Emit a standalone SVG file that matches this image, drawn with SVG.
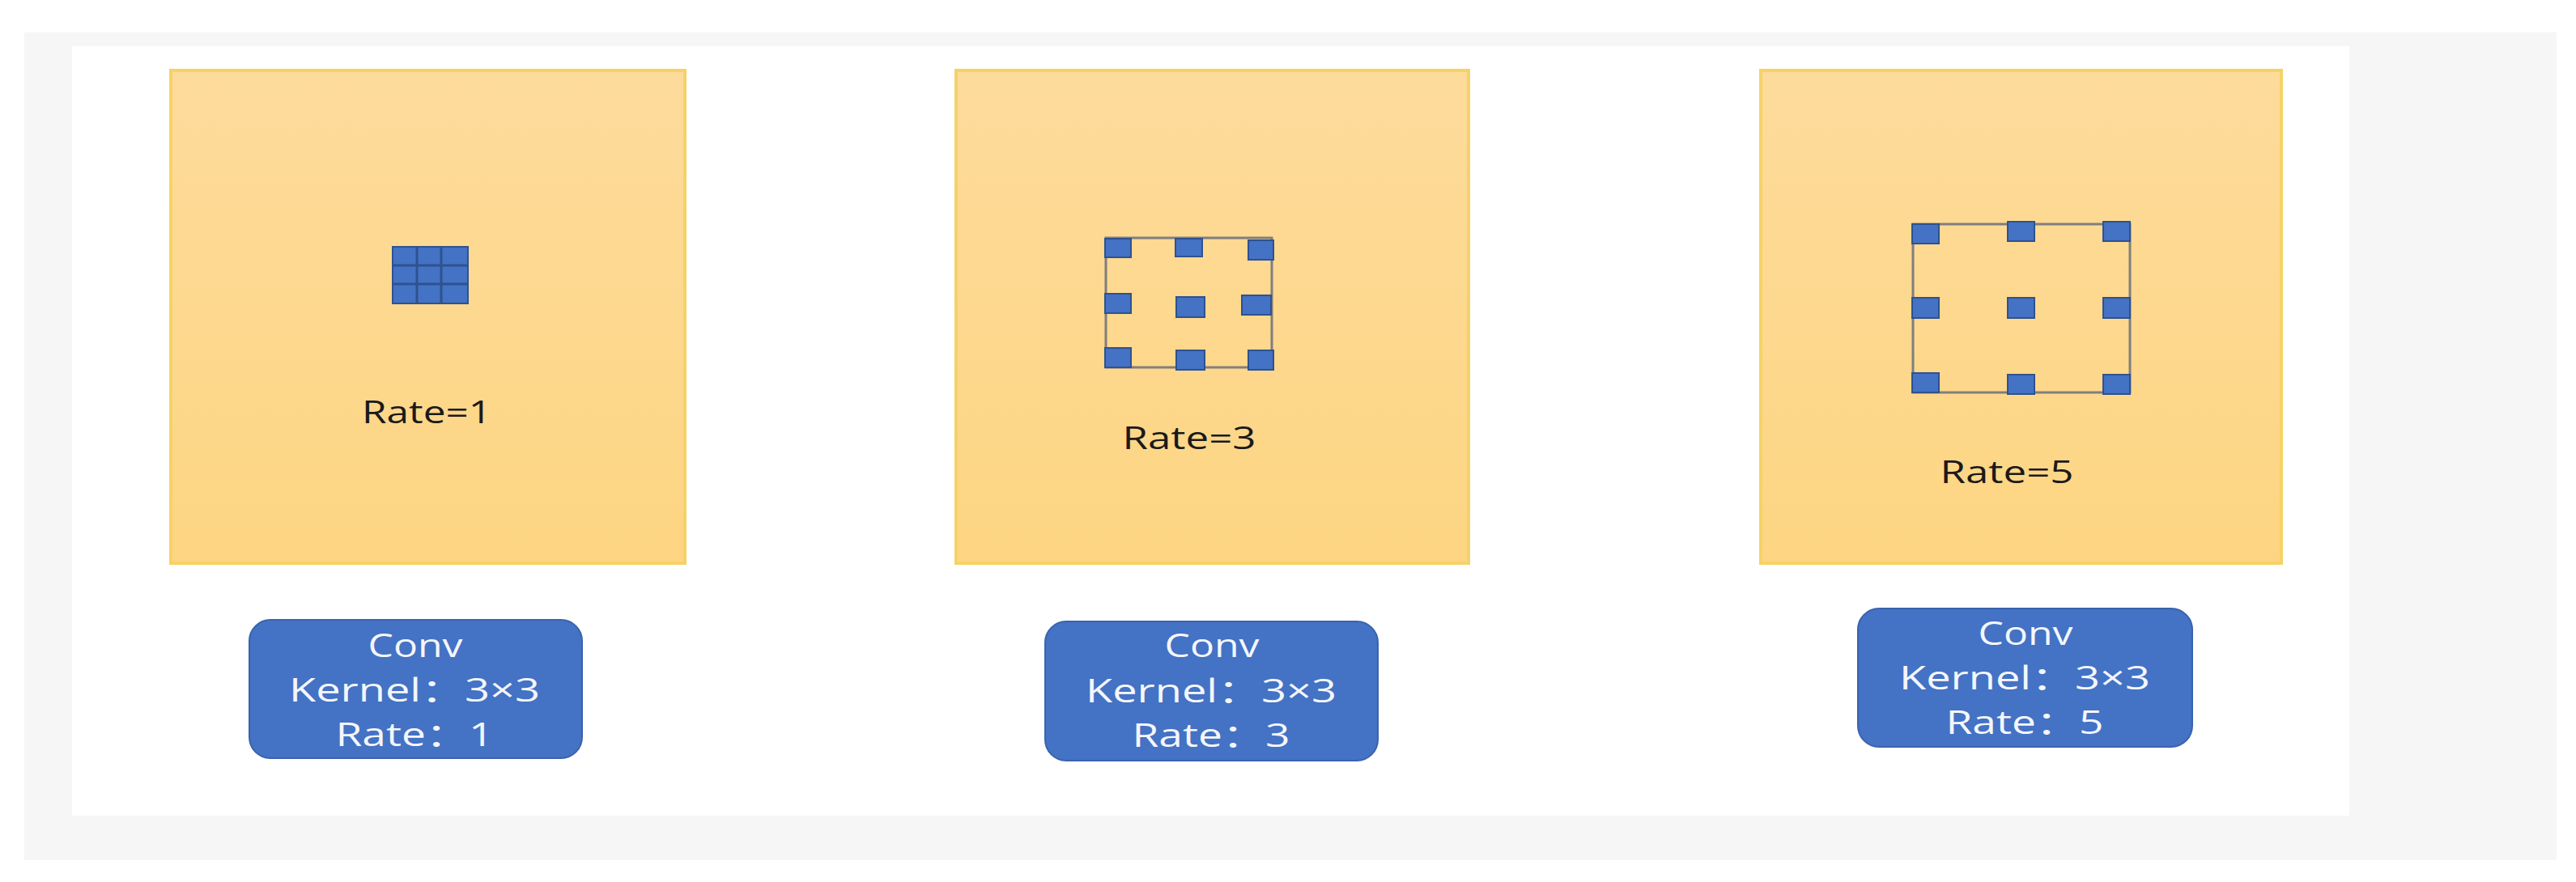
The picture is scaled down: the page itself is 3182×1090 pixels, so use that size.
<svg xmlns="http://www.w3.org/2000/svg" width="3182" height="1090" viewBox="0 0 3182 1090">
<defs>
<linearGradient id="og" x1="0" y1="0" x2="0" y2="1">
<stop offset="0" stop-color="#fddb9b"/>
<stop offset="1" stop-color="#fdd582"/>
</linearGradient>
<style>
.panel{fill:url(#og);stroke:#f6d266;stroke-width:4}
.cell{fill:#4472c4;stroke:#2f528f;stroke-width:2}
.frame{fill:none;stroke:#7f7f7f;stroke-width:3}
.lbl{font-family:"Open Sans","Noto Sans CJK SC",sans-serif;font-size:39px;fill:#1a1a1a;text-anchor:middle}
.conv{fill:#4472c4;stroke:#3a63ad;stroke-width:2}
.ct{font-family:"Open Sans","Noto Sans CJK SC",sans-serif;font-size:40px;fill:#f4f6fb;text-anchor:middle}
</style>
</defs>
<rect x="0" y="0" width="3182" height="1090" fill="#ffffff"/>
<rect x="30" y="40" width="3128" height="1023" fill="#f6f6f6"/>
<rect x="89" y="57" width="2813" height="951" fill="#ffffff"/>

<g id="panel1">
<rect class="panel" x="211" y="87" width="635" height="609"/>
<rect class="cell" x="485" y="305" width="93" height="70"/>
<line x1="515" y1="305" x2="515" y2="375" stroke="#2f528f" stroke-width="3"/>
<line x1="545" y1="305" x2="545" y2="375" stroke="#2f528f" stroke-width="3"/>
<line x1="485" y1="328" x2="578" y2="328" stroke="#2f528f" stroke-width="3"/>
<line x1="485" y1="351" x2="578" y2="351" stroke="#2f528f" stroke-width="3"/>
<text class="lbl" x="527" y="523" textLength="160" lengthAdjust="spacingAndGlyphs">Rate=1</text>
</g>

<g id="panel2">
<rect class="panel" x="1181" y="87" width="633" height="609"/>
<rect class="frame" x="1366" y="294" width="205" height="160"/>
<rect class="cell" x="1365" y="295" width="32" height="23"/>
<rect class="cell" x="1452" y="295" width="33" height="22"/>
<rect class="cell" x="1542" y="297" width="31" height="24"/>
<rect class="cell" x="1365" y="363" width="32" height="24"/>
<rect class="cell" x="1453" y="367" width="35" height="25"/>
<rect class="cell" x="1534" y="365" width="36" height="24"/>
<rect class="cell" x="1365" y="430" width="32" height="24"/>
<rect class="cell" x="1453" y="433" width="35" height="24"/>
<rect class="cell" x="1542" y="433" width="31" height="24"/>
<text class="lbl" x="1469" y="555" textLength="165" lengthAdjust="spacingAndGlyphs">Rate=3</text>
</g>

<g id="panel3">
<rect class="panel" x="2175" y="87" width="643" height="609"/>
<rect class="frame" x="2363" y="277" width="268" height="208"/>
<rect class="cell" x="2362" y="277" width="33" height="24"/>
<rect class="cell" x="2480" y="274" width="33" height="24"/>
<rect class="cell" x="2598" y="274" width="33" height="24"/>
<rect class="cell" x="2362" y="368" width="33" height="25"/>
<rect class="cell" x="2480" y="368" width="33" height="25"/>
<rect class="cell" x="2598" y="368" width="33" height="25"/>
<rect class="cell" x="2362" y="461" width="33" height="24"/>
<rect class="cell" x="2480" y="463" width="33" height="24"/>
<rect class="cell" x="2598" y="463" width="33" height="24"/>
<text class="lbl" x="2479" y="597" textLength="165" lengthAdjust="spacingAndGlyphs">Rate=5</text>
</g>

<g id="conv1">
<rect class="conv" x="308" y="766" width="411" height="171" rx="26"/>
<text class="ct" x="513" y="812" textLength="117" lengthAdjust="spacingAndGlyphs">Conv</text>
<text class="ct" x="512" y="867" textLength="310" lengthAdjust="spacingAndGlyphs">Kernel：3×3</text>
<text class="ct" x="512" y="922" textLength="195" lengthAdjust="spacingAndGlyphs">Rate：1</text>
</g>

<g id="conv2">
<rect class="conv" x="1291" y="768" width="411" height="172" rx="26"/>
<text class="ct" x="1497" y="812" textLength="117" lengthAdjust="spacingAndGlyphs">Conv</text>
<text class="ct" x="1496" y="868" textLength="310" lengthAdjust="spacingAndGlyphs">Kernel：3×3</text>
<text class="ct" x="1496" y="923" textLength="195" lengthAdjust="spacingAndGlyphs">Rate：3</text>
</g>

<g id="conv3">
<rect class="conv" x="2295" y="752" width="413" height="171" rx="26"/>
<text class="ct" x="2502" y="797" textLength="117" lengthAdjust="spacingAndGlyphs">Conv</text>
<text class="ct" x="2501" y="852" textLength="310" lengthAdjust="spacingAndGlyphs">Kernel：3×3</text>
<text class="ct" x="2501" y="907" textLength="195" lengthAdjust="spacingAndGlyphs">Rate：5</text>
</g>

<g id="connectors"></g>
</svg>
